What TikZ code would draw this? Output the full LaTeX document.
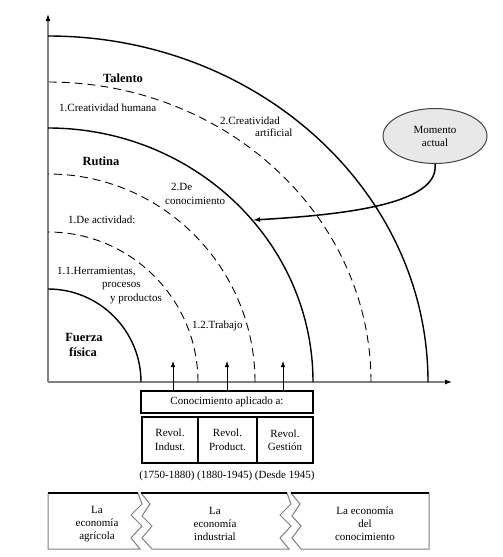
\documentclass[tikz,border=0pt]{standalone}
\usepackage{fontspec}
\setmainfont{Liberation Serif}
\usetikzlibrary{shapes.geometric,arrows.meta}
\begin{document}
\begin{tikzpicture}[x=1pt,y=1pt,
  lbl/.style={font=\fontsize{11}{13}\selectfont, inner sep=0pt},
  blbl/.style={font=\fontsize{12.5}{14}\selectfont\bfseries, inner sep=0pt},
  solidarc/.style={line width=1.4pt},
  dasharc/.style={line width=0.9pt, dash pattern=on 8pt off 5pt},
  axisline/.style={draw=gray, line width=1.1pt, -{Latex[length=7pt,width=5pt,color=black]}},
  uparrow/.style={line width=0.8pt, -{Latex[length=6pt,width=4.5pt]}},
  boxnode/.style={draw, line width=1.1pt, minimum height=46pt, inner sep=0pt, align=center, font=\fontsize{11}{13.5}\selectfont},
  econ/.style={draw=gray, line width=1pt, line join=miter},
  econtxt/.style={lbl, align=center, font=\fontsize{11}{13}\selectfont}
]
\useasboundingbox (0,0) rectangle (503,-557);
\fill[white] (0,0) rectangle (503,-557);

% origin and axes
\coordinate (O) at (48,-382);
\coordinate (ytop) at (48,-14);
\coordinate (xend) at (452,-382);
\draw[axisline] (O) -- (ytop);
\draw[axisline] (O) -- (xend);

% arcs
\draw[solidarc] (141,-382) arc[start angle=0,end angle=90,x radius=93pt,y radius=93pt];
\draw[dasharc]  (198,-382) arc[start angle=0,end angle=90,x radius=150pt,y radius=150pt];
\draw[dasharc]  (255,-382) arc[start angle=0,end angle=90,x radius=207pt,y radius=208pt];
\draw[solidarc] (313,-382) arc[start angle=0,end angle=90,x radius=265pt,y radius=254pt];
\draw[dasharc]  (371,-382) arc[start angle=0,end angle=90,x radius=323pt,y radius=300pt];
\draw[solidarc] (428,-382) arc[start angle=0,end angle=90,x radius=380pt,y radius=346pt];

% labels in the quadrant
\node[blbl] (talento) at (123,-78) {Talento};
\node[lbl, anchor=west] (crh) at (59,-108) {1.Creatividad humana};
\node[lbl, anchor=west] (cra1) at (220,-121) {2.Creatividad};
\node[lbl, anchor=west] (cra2) at (255,-133) {artificial};
\node[blbl] (rutina) at (101,-161) {Rutina};
\node[lbl, anchor=west] (dc1) at (171,-187) {2.De};
\node[lbl, anchor=west] (dc2) at (165,-201) {conocimiento};
\node[lbl, anchor=west] (dact) at (68,-220) {1.De actividad:};
\node[lbl, anchor=west] (herr1) at (57,-272) {1.1.Herramientas,};
\node[lbl, anchor=west] (herr2) at (102,-286) {procesos};
\node[lbl, anchor=west] (herr3) at (110,-299) {y productos};
\node[lbl, anchor=west] (trab) at (192,-326) {1.2.Trabajo};
\node[blbl] (fuerza) at (84,-337) {Fuerza};
\node[blbl] (fisica) at (83,-352) {física};

% momento actual
\node[ellipse, draw=black!75, line width=1pt, fill=black!9, minimum width=104pt, minimum height=55pt, inner sep=0pt, align=center, font=\fontsize{11}{13}\selectfont] (mom) at (435,-136) {Momento\\actual};
\coordinate (hit) at (253,-220);
\draw[line width=1.5pt, -{Latex[length=7pt,width=5pt]}] (mom.south) .. controls (440,-205) and (340,-215) .. (hit);

% conocimiento aplicado box
\node[draw, line width=1.1pt, minimum width=172pt, minimum height=22pt, inner sep=0pt, font=\fontsize{11}{13}\selectfont] (conoc) at (227,-402) {Conocimiento aplicado a:};
\coordinate (t1) at (173,-361);
\coordinate (t2) at (227,-361);
\coordinate (t3) at (283,-361);
\draw[uparrow] (t1 |- conoc.north) -- (t1);
\draw[uparrow] (t2 |- conoc.north) -- (t2);
\draw[uparrow] (t3 |- conoc.north) -- (t3);

% revol boxes
\node[boxnode, minimum width=56pt] (rv1) at (170,-440) {Revol.\\Indust.};
\node[boxnode, minimum width=59pt] (rv2) at (227.5,-440) {Revol.\\Product.};
\node[boxnode, minimum width=56pt] (rv3) at (285,-440) {Revol.\\Gestión};
\node[lbl] (years) at (227,-476) {(1750-1880) (1880-1945) (Desde 1945)};

% economy shapes
\draw[econ] (48,-493) -- (138,-493) -- (142,-504) -- (131,-515) -- (142,-526) -- (131,-538) -- (140,-549) -- (48,-549) -- cycle;
\draw[econ] (141,-493) -- (287,-493) -- (291,-504) -- (280,-515) -- (291,-526) -- (280,-538) -- (289,-549) -- (152,-549) -- (142,-538) -- (152,-526) -- (142,-516) -- (150,-504) -- cycle;
\draw[econ] (291,-493) -- (429,-493) -- (429,-549) -- (301,-549) -- (292,-538) -- (301,-526) -- (292,-516) -- (300,-504) -- cycle;
\draw[line width=1.2pt] (48,-493) -- (138,-493);
\draw[line width=1.2pt] (141,-493) -- (287,-493);
\draw[line width=1.2pt] (291,-493) -- (429,-493);

\node[econtxt] (e1) at (97,-524) {La\\economía\\agrícola};
\node[econtxt] (e2) at (215,-524) {La\\economía\\industrial};
\node[econtxt] (e3) at (365,-524) {La economía\\del\\conocimiento};
\end{tikzpicture}
\end{document}
